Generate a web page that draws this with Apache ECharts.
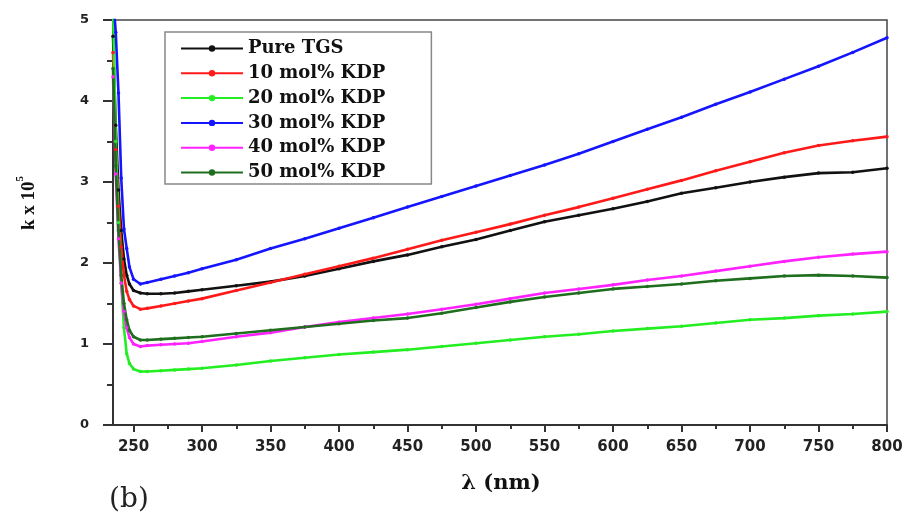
<!DOCTYPE html>
<html>
<head>
<meta charset="utf-8">
<script src="https://cdn.jsdelivr.net/npm/echarts@6/dist/echarts.min.js"></script>
<style>
html,body{margin:0;padding:0;background:#fff;}
#chart{width:907px;height:516px;}
</style>
</head>
<body>
<div id="chart"></div>
<script>
// Wavelength (nm)
const wavelengths = [235, 237, 239, 241, 243, 245, 247, 250, 255, 260, 270, 280, 290, 300, 325, 350, 375, 400, 425, 450, 475, 500, 525, 550, 575, 600, 625, 650, 675, 700, 725, 750, 775, 800];
// k x 10^5 values
const pureTGS = [4.8, 3.7, 2.9, 2.4, 2.05, 1.85, 1.74, 1.66, 1.63, 1.62, 1.62, 1.63, 1.65, 1.67, 1.72, 1.77, 1.84, 1.93, 2.02, 2.10, 2.20, 2.29, 2.40, 2.51, 2.59, 2.67, 2.76, 2.86, 2.93, 3.00, 3.06, 3.11, 3.12, 3.17];
const kdp10 = [4.6, 3.4, 2.7, 2.2, 1.85, 1.65, 1.55, 1.47, 1.43, 1.44, 1.47, 1.50, 1.53, 1.56, 1.66, 1.76, 1.86, 1.96, 2.06, 2.17, 2.28, 2.38, 2.48, 2.59, 2.69, 2.80, 2.91, 3.02, 3.14, 3.25, 3.36, 3.45, 3.51, 3.56];
const kdp20 = [5.2, 3.5, 2.5, 1.75, 1.2, 0.88, 0.76, 0.69, 0.66, 0.66, 0.67, 0.68, 0.69, 0.70, 0.74, 0.79, 0.83, 0.87, 0.90, 0.93, 0.97, 1.01, 1.05, 1.09, 1.12, 1.16, 1.19, 1.22, 1.26, 1.30, 1.32, 1.35, 1.37, 1.40];
const kdp30 = [5.3, 4.85, 4.1, 3.05, 2.42, 2.18, 1.95, 1.80, 1.74, 1.76, 1.80, 1.84, 1.88, 1.93, 2.04, 2.18, 2.30, 2.43, 2.56, 2.69, 2.82, 2.95, 3.08, 3.21, 3.35, 3.50, 3.65, 3.80, 3.96, 4.11, 4.27, 4.43, 4.60, 4.78];
const kdp40 = [4.3, 3.1, 2.3, 1.75, 1.4, 1.2, 1.08, 1.0, 0.97, 0.98, 0.99, 1.0, 1.01, 1.03, 1.09, 1.14, 1.21, 1.27, 1.32, 1.37, 1.43, 1.49, 1.56, 1.63, 1.68, 1.73, 1.79, 1.84, 1.90, 1.96, 2.02, 2.07, 2.11, 2.14];
const kdp50 = [4.4, 3.2, 2.4, 1.85, 1.5, 1.3, 1.17, 1.09, 1.05, 1.05, 1.06, 1.07, 1.08, 1.09, 1.13, 1.17, 1.21, 1.25, 1.29, 1.32, 1.38, 1.45, 1.52, 1.58, 1.63, 1.68, 1.71, 1.74, 1.78, 1.81, 1.84, 1.85, 1.84, 1.82];

const seriesNames = ['Pure TGS', '10 mol% KDP', '20 mol% KDP', '30 mol% KDP', '40 mol% KDP', '50 mol% KDP'];
const seriesValues = [pureTGS, kdp10, kdp20, kdp30, kdp40, kdp50];
const seriesColors = ['#111111', '#ff1a1a', '#22ee22', '#1515ff', '#ff22ff', '#1e6e1e'];

const xMajorTicks = [250, 300, 350, 400, 450, 500, 550, 600, 650, 700, 750, 800];
const xMinorTicks = [275, 325, 375, 425, 475, 525, 575, 625, 675, 725, 775];

const chart = echarts.init(document.getElementById('chart'), null, {renderer: 'canvas'});

const series = seriesNames.map((name, i) => ({
  name: name,
  type: 'line',
  xAxisIndex: 0,
  data: wavelengths.map((w, j) => [w, seriesValues[i][j]]),
  symbol: 'circle',
  symbolSize: 3.5,
  showSymbol: true,
  clip: true,
  lineStyle: {color: seriesColors[i], width: 2.6},
  itemStyle: {color: seriesColors[i]},
  z: 2
}));

chart.setOption({
  animation: false,
  backgroundColor: '#fff',
  grid: {left: 113, right: 20, top: 20, bottom: 91, show: true, borderColor: '#444', borderWidth: 1.5, backgroundColor: 'transparent'},
  xAxis: [{
    type: 'value', min: 235, max: 800,
    axisLine: {show: true, lineStyle: {color: '#333', width: 2}},
    axisTick: {show: true, customValues: xMajorTicks, length: 7, lineStyle: {color: '#333', width: 2}},
    axisLabel: {customValues: xMajorTicks, margin: 15, fontFamily: 'DejaVu Sans', fontWeight: 'bold', fontSize: 15, color: '#222'},
    splitLine: {show: false}
  }, {
    type: 'value', min: 235, max: 800, position: 'bottom', gridIndex: 0,
    axisLine: {show: false},
    axisTick: {show: true, customValues: xMinorTicks, length: 4, lineStyle: {color: '#333', width: 2}},
    axisLabel: {show: false},
    splitLine: {show: false}
  }],
  yAxis: {
    type: 'value', min: 0, max: 5, interval: 1,
    axisLine: {show: true, lineStyle: {color: '#333', width: 2}},
    axisTick: {show: true, length: 10, lineStyle: {color: '#333', width: 2}},
    minorTick: {show: true, splitNumber: 2, length: 6, lineStyle: {color: '#333', width: 2}},
    axisLabel: {margin: 24, fontFamily: 'DejaVu Sans', fontWeight: 'bold', fontSize: 13, color: '#222'},
    splitLine: {show: false}
  },
  legend: {
    orient: 'vertical', left: 165, top: 32,
    data: seriesNames,
    itemWidth: 62, itemHeight: 8, itemGap: 5.8,
    padding: [7, 46, 2, 15],
    borderColor: '#888', borderWidth: 1.5,
    textStyle: {fontFamily: 'DejaVu Serif', fontWeight: 'bold', fontSize: 18, color: '#111', lineHeight: 19}
  },
  graphic: [{
    type: 'text', x: 27, y: 203, rotation: Math.PI / 2,
    style: {
      text: '{a|k x 10}{b|5}',
      align: 'center', verticalAlign: 'middle',
      rich: {
        a: {fontFamily: 'Liberation Serif', fontWeight: 'bold', fontSize: 19, fill: '#111', lineHeight: 24, verticalAlign: 'bottom'},
        b: {fontFamily: 'Liberation Serif', fontWeight: 'bold', fontSize: 11, fill: '#111', lineHeight: 24, verticalAlign: 'top'}
      }
    }
  }, {
    type: 'text', x: 501, y: 484,
    style: {text: 'λ (nm)', align: 'center', verticalAlign: 'middle', font: 'bold 21px "DejaVu Serif"', fill: '#111'}
  }, {
    type: 'text', x: 129, y: 500,
    style: {text: '(b)', align: 'center', verticalAlign: 'middle', font: '28px "DejaVu Serif"', fill: '#222'}
  }],
  series: series
});
</script>
</body>
</html>
